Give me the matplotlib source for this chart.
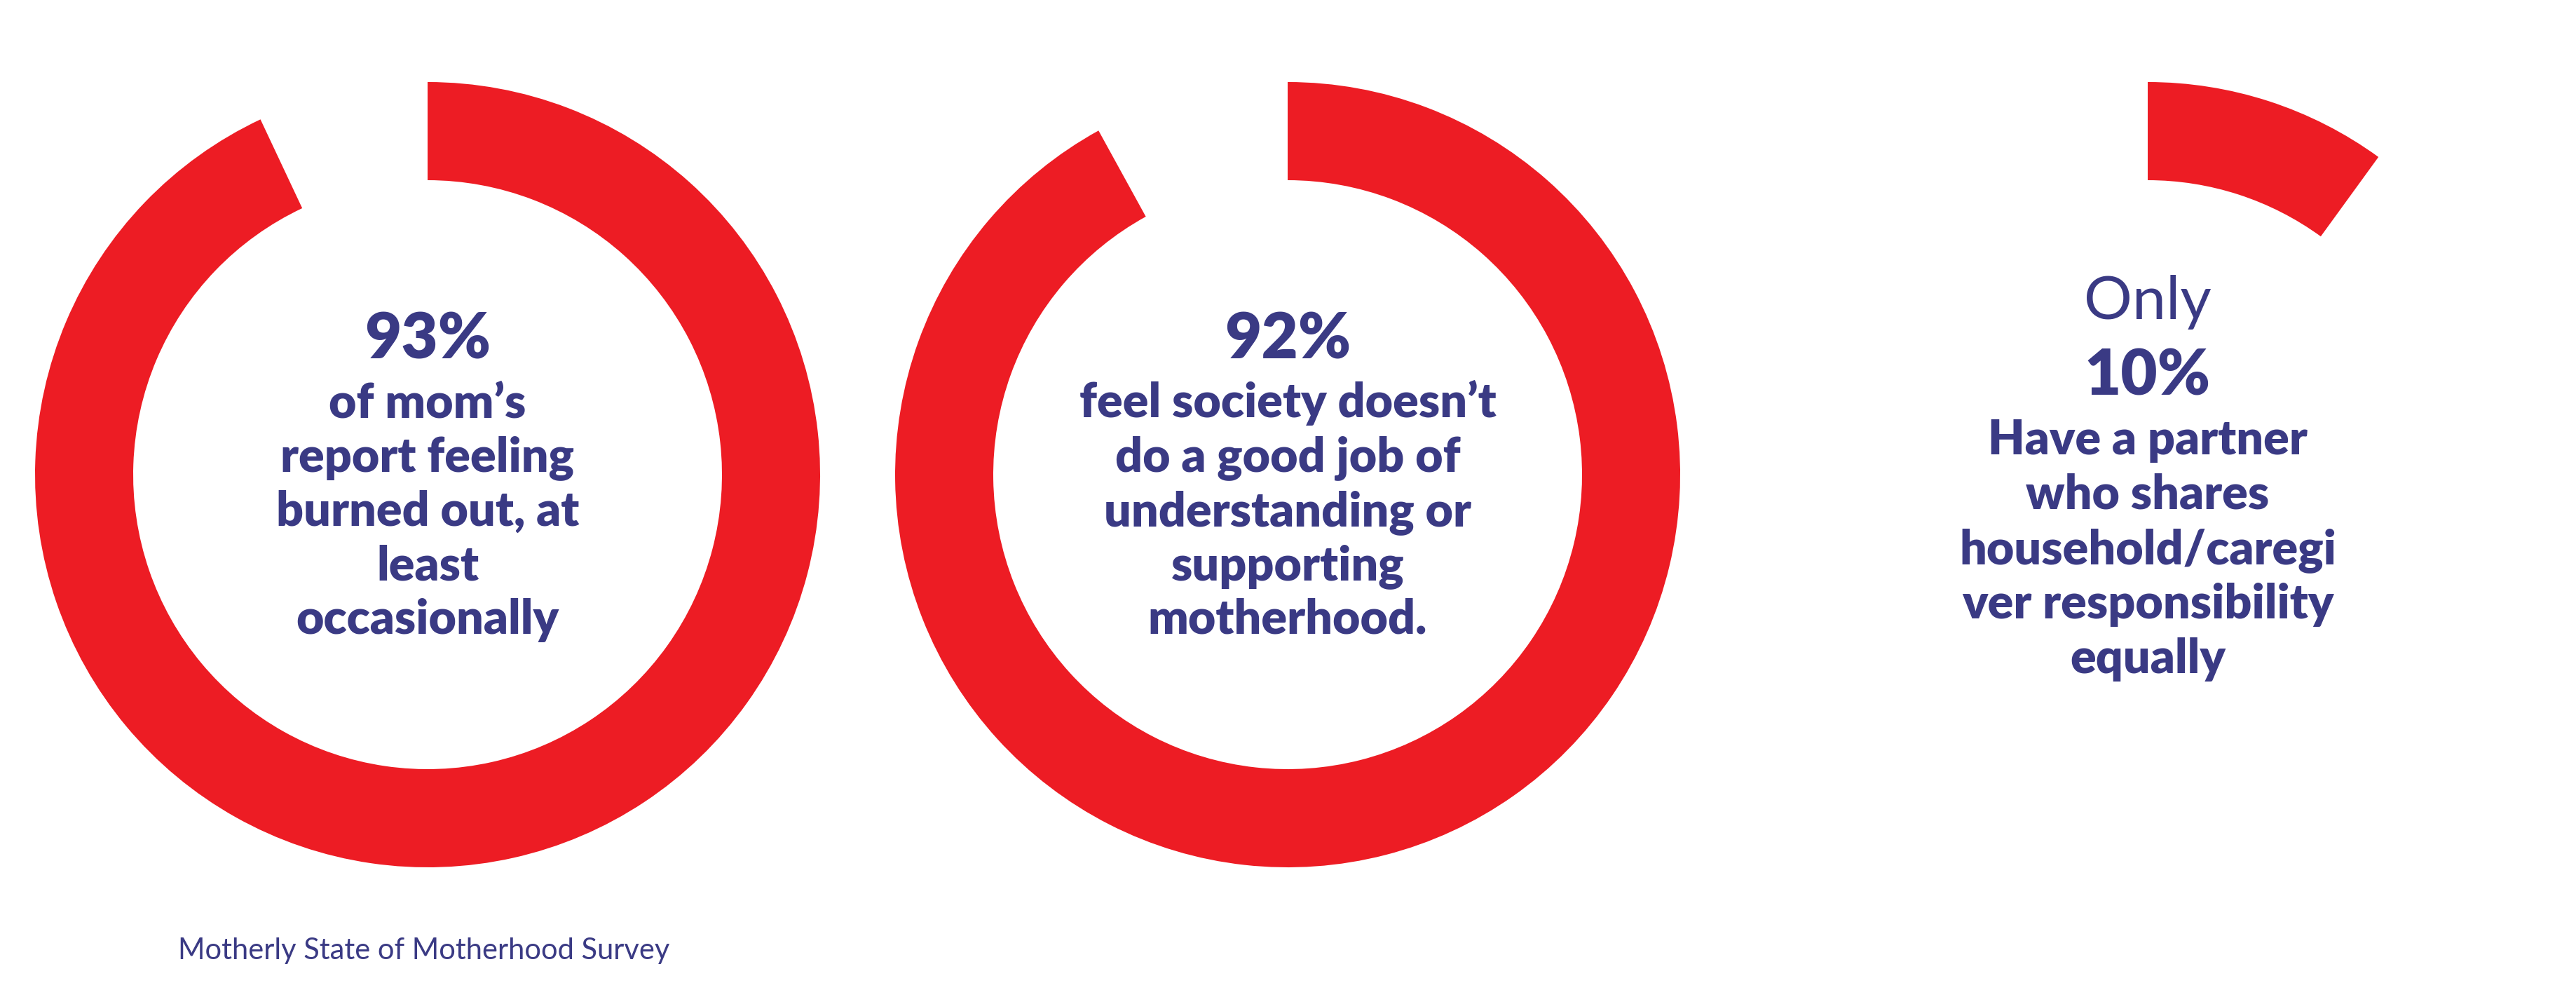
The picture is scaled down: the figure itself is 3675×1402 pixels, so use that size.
import matplotlib
matplotlib.use("Agg")
import matplotlib.pyplot as plt
from matplotlib.patches import Wedge

# survey shares (percent) and the text that goes in each ring
pcts = [93, 92, 10]
leads = ["", "", "Only"]
bodies = [
    ["of mom’s", "report feeling", "burned out, at", "least", "occasionally"],
    ["feel society doesn’t", "do a good job of", "understanding or", "supporting", "motherhood."],
    ["Have a partner", "who shares", "household/caregi", "ver responsibility", "equally"],
]
source = "Motherly State of Motherhood Survey"

RED = "#ed1c24"
NAVY = "#3a3a84"
W, H = 3675, 1402

# layout in pixels (y from top)
cx = [610, 1837, 3064]
cy = 677
r_out, ring = 560, 140
pct_base = [512, 512, 563]
lead_base = 455
body_base = [[595, 672, 750, 827, 904],
             [595, 672, 750, 827, 904],
             [648, 726, 804, 882, 960]]

plt.rcParams['font.family'] = ['Lato', 'DejaVu Sans']

fig = plt.figure(figsize=(W / 100, H / 100), dpi=100)
ax = fig.add_axes([0, 0, 1, 1])
ax.set_xlim(0, W)
ax.set_ylim(H, 0)
ax.axis("off")

for i, p in enumerate(pcts):
    # y axis is flipped, so growing angle runs clockwise from 12 o'clock
    ax.add_patch(Wedge((cx[i], cy), r_out, -90, -90 + p * 3.6,
                       width=ring, facecolor=RED, edgecolor="none"))
    if leads[i]:
        ax.text(cx[i], lead_base, leads[i], ha="center", va="baseline",
                fontsize=62, fontweight=400, color=NAVY)
    ax.text(cx[i], pct_base[i], f"{p}%", ha="center", va="baseline",
            fontsize=65, fontweight="heavy", color=NAVY)
    for line, yb in zip(bodies[i], body_base[i]):
        ax.text(cx[i], yb, line, ha="center", va="baseline",
                fontsize=49, fontweight="heavy", color=NAVY)

ax.text(605, 1368, source, ha="center", va="baseline",
        fontsize=30, fontweight="normal", color=NAVY)

fig.savefig("out.png", dpi=100, facecolor="white")
